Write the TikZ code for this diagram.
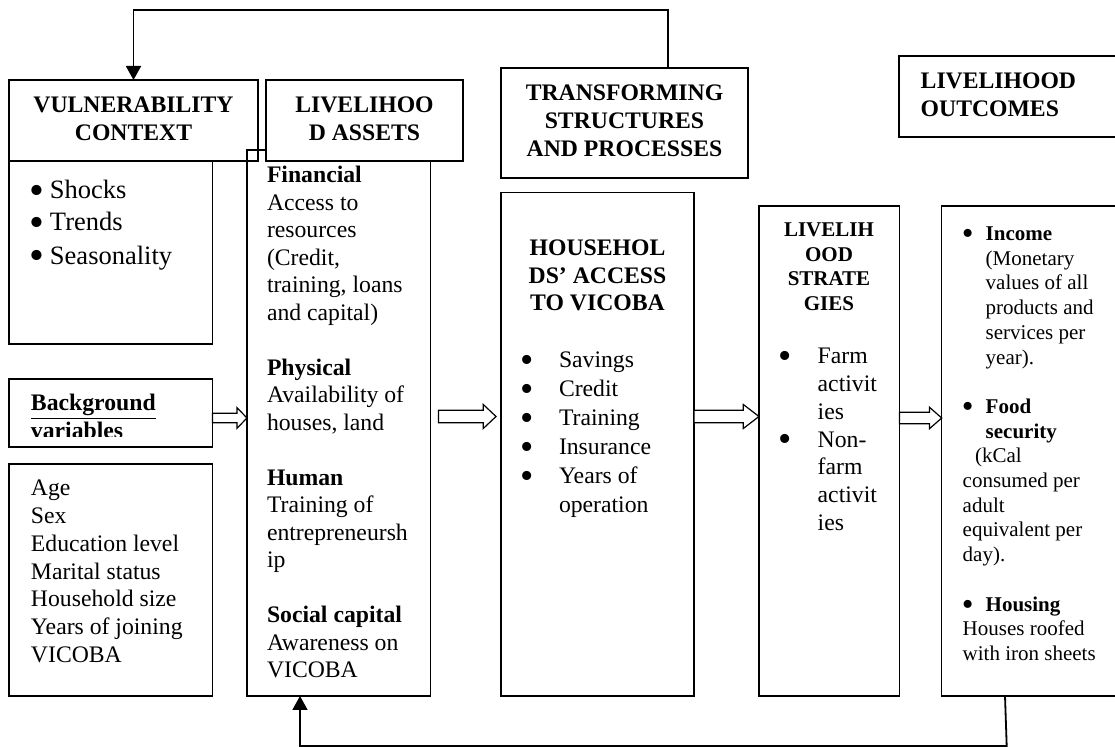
\documentclass[tikz,border=0pt]{standalone}
\usepackage{fontspec}
\setmainfont{Liberation Serif}
\usepackage{graphicx}
\usetikzlibrary{calc,arrows.meta}

% left / centred multi-line blocks: size, baselineskip, font, rows
\newcommand{\lblk}[4]{\vtop{\fontsize{#1}{#2}\selectfont\lineskiplimit=-100pt\lineskip=0pt#3\halign{##\hfil\cr#4\crcr}}}
\newcommand{\cblk}[4]{\vtop{\fontsize{#1}{#2}\selectfont\lineskiplimit=-100pt\lineskip=0pt#3\halign{\hfil##\hfil\cr#4\crcr}}}
\newcommand{\bul}{\smash{\raisebox{-0.19em}{\scalebox{1.6}{\textbullet}}}}
\newcommand{\bulat}[2]{\makebox[#2][l]{\kern#1\makebox[0pt]{\bul}}}

\tikzset{
  box/.style={draw, line width=0.6pt, inner sep=0pt, outer sep=0pt, anchor=north west},
  txt/.style={inner sep=0pt, outer sep=0pt, anchor=base west},
  ctxt/.style={inner sep=0pt, outer sep=0pt, anchor=base},
  fb/.style={line width=0.9pt, -{Triangle[length=7pt,width=7.5pt]}},
  hollow/.style={draw, line width=0.6pt, fill=white, line join=miter},
}
\newcommand{\boxat}[6][]{\node[box,#1, minimum width={(#5-#3)*0.5pt}, minimum height={(#6-#4)*0.5pt}] (#2) at (#3,#4) {};}
\newcommand{\hollowarrow}[5]{%
  \draw[hollow] ($(#1)+(0,-#3)$) -- ($(#2)+(-#5,-#3)$) -- ($(#2)+(-#5,-#4)$) -- (#2)
    -- ($(#2)+(-#5,#4)$) -- ($(#2)+(-#5,#3)$) -- ($(#1)+(0,#3)$) -- cycle;}

\begin{document}
\begin{tikzpicture}[x=0.5pt,y=-0.5pt]
\useasboundingbox (0,0) rectangle (1115,747);
\fill[white] (0,0) rectangle (1115,747);
\clip (0,0) rectangle (1115,747);

% ---- boxes ----
\boxat{vulnH}{9}{80}{258}{161}
\boxat{assetsC}{247}{150}{430.5}{696}
\boxat[fill=white]{assetsH}{266}{80}{463}{161}
\boxat{vulnC}{9}{161}{212.5}{344}
\boxat{bg}{9}{379}{212.5}{447}
\boxat{age}{9}{464}{212.5}{696}
\boxat{trans}{501}{68}{748}{178}
\boxat{hh}{501}{192.5}{694}{696}
\boxat{strat}{759}{206}{899.5}{696}
\boxat{outH}{899}{56}{1130}{137}
\boxat{outC}{941.7}{206}{1130}{696}

% ---- texts ----
\node[ctxt] (vulnT) at (133.5,113) {\cblk{11.85}{13.9}{\bfseries}{VULNERABILITY\cr CONTEXT}};
\node[ctxt] (assetsHT) at (364.5,113) {\cblk{11.85}{13.9}{\bfseries}{LIVELIHOO\cr D ASSETS}};
\node[ctxt] (transT) at (624.5,101) {\cblk{11.85}{14}{\bfseries}{TRANSFORMING\cr STRUCTURES\cr AND PROCESSES}};
\node[txt] (outHT) at (920.7,89) {\lblk{11.85}{13.75}{\bfseries}{LIVELIHOOD\cr OUTCOMES}};

\node[txt] (vulnL) at (32,199) {\lblk{13.25}{16}{}{\bulat{2.35pt}{9pt}Shocks\cr \bulat{2.35pt}{9pt}Trends\cr\noalign{\vskip0.75pt} \bulat{2.35pt}{9pt}Seasonality}};

\node[txt] (assetsT) at (267,183) {\lblk{11.85}{13.75}{}{\textbf{Financial}\cr Access to\cr resources\cr (Credit,\cr training, loans\cr and capital)\cr \cr \textbf{Physical}\cr Availability of\cr houses, land\cr \cr \textbf{Human}\cr Training of\cr entrepreneursh\cr ip\cr \cr \textbf{Social capital}\cr Awareness on\cr VICOBA}};

\begin{scope}
\clip (bg.north west) rectangle ($(bg.south east)+(0,-10.3)$);
\node[txt] (bgT) at (31,410.7) {\lblk{11.85}{13.9}{\bfseries}{\underline{Background}\cr variables}};
\end{scope}

\node[txt] (ageT) at (31,495.8) {\lblk{11.85}{13.9}{}{Age\cr Sex\cr Education level\cr Marital status\cr Household size\cr Years of joining\cr VICOBA}};

\node[ctxt] (hhT) at (597.5,256) {\cblk{11.85}{13.75}{\bfseries}{HOUSEHOL\cr DS’ ACCESS\cr TO VICOBA}};
\node[txt] (hhL) at (517.5,368) {\lblk{11.85}{14.5}{}{\bulat{5pt}{20.75pt}Savings\cr \bulat{5pt}{20.75pt}Credit\cr \bulat{5pt}{20.75pt}Training\cr \bulat{5pt}{20.75pt}Insurance\cr \bulat{5pt}{20.75pt}Years of\cr \kern20.75pt operation}};

\node[ctxt] (stratT) at (829,237) {\cblk{10.5}{12.2}{\bfseries}{LIVELIH\cr OOD\cr STRATE\cr GIES}};
\node[txt] (stratL) at (775,364) {\lblk{11.85}{13.85}{}{\bulat{5pt}{21.35pt}Farm\cr \kern21.35pt activit\cr \kern21.35pt ies\cr \bulat{5pt}{21.35pt}Non-\cr \kern21.35pt farm\cr \kern21.35pt activit\cr \kern21.35pt ies}};

\node[txt] (outL) at (962.7,240.6) {\lblk{10.5}{12.35}{}{\bulat{2.5pt}{11.5pt}\textbf{Income}\cr
\kern11.5pt(Monetary\cr
\kern11.5pt values of all\cr
\kern11.5pt products and\cr
\kern11.5pt services per\cr
\kern11.5pt year).\cr
\cr
\bulat{2.5pt}{11.5pt}\textbf{Food}\cr
\kern11.5pt\textbf{security}\cr
\kern6.15pt(kCal\cr
consumed per\cr
adult\cr
equivalent per\cr
day).\cr
\cr
\bulat{2.5pt}{11.5pt}\textbf{Housing}\cr
Houses roofed\cr
with iron sheets}};

% ---- hollow block arrows ----
\coordinate (rowA) at (0,418);
\coordinate (rowB) at (0,416.5);
\coordinate (a1s) at (bg.east |- rowA);
\coordinate (a1e) at (assetsC.west |- rowA);
\coordinate (a2s) at ($(assetsC.east |- rowB)+(8,0)$);
\coordinate (a2e) at ($(hh.west |- rowB)+(-5,0)$);
\coordinate (a3s) at (hh.east |- rowB);
\coordinate (a3e) at (strat.west |- rowB);
\coordinate (a4s) at (strat.east |- rowA);
\coordinate (a4e) at (outC.west |- rowA);
\hollowarrow{a1s}{a1e}{4.7}{10.3}{10}
\hollowarrow{a2s}{a2e}{6.3}{12}{12.7}
\hollowarrow{a3s}{a3e}{6.3}{12}{15.7}
\hollowarrow{a4s}{a4e}{5.8}{10.8}{12.3}

% ---- feedback connectors ----
\coordinate (topR) at (668,10);
\draw[fb] (trans.north -| topR) -- (topR) -- (vulnH.north |- topR) -- (vulnH.north);
\coordinate (botS) at ($(outC.south west)+(63.3,0)$);
\coordinate (botR) at (1006.7,746);
\coordinate (botL) at (300,746);
\draw[fb] (botS) -- (botR) -- (botL) -- (assetsC.south -| botL);
\end{tikzpicture}
\end{document}
